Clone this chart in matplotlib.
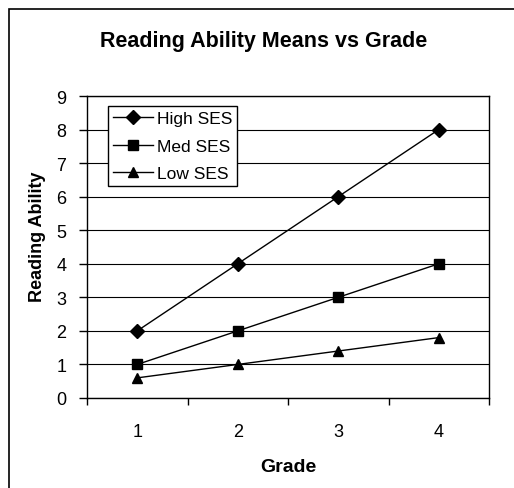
import matplotlib
matplotlib.use("Agg")
import matplotlib.pyplot as plt
from matplotlib.patches import Rectangle

plt.rcParams['font.family'] = ['Liberation Sans', 'DejaVu Sans']

grades = [1, 2, 3, 4]
high_ses = [2, 4, 6, 8]
med_ses = [1, 2, 3, 4]
low_ses = [0.6, 1.0, 1.4, 1.8]

W, H = 514, 489
fig = plt.figure(figsize=(W / 100, H / 100), dpi=100)

# outer chart frame (runs off the right and bottom edges)
fig.patches.append(Rectangle((9 / W, -0.05), 1.2, (H - 10) / H + 0.05,
                             transform=fig.transFigure, fill=False,
                             edgecolor='black', linewidth=1.2))

ax = fig.add_axes([87 / W, (H - 399) / H, (489 - 87) / W, (399 - 97) / H])

ax.plot(grades, high_ses, color='black', lw=1, marker='D', ms=6.8, label='High SES')
ax.plot(grades, med_ses, color='black', lw=1, marker='s', ms=6.8, label='Med SES')
ax.plot(grades, low_ses, color='black', lw=1, marker='^', ms=7.5, label='Low SES')

ax.set_xlim(0.5, 4.5)
ax.set_ylim(0, 9)
ax.set_yticks(range(0, 10))
ax.set_xticks(grades)
ax.set_xticks([0.5, 1.5, 2.5, 3.5, 4.5], minor=True)
ax.tick_params(axis='x', which='major', length=0, pad=18, labelsize=13)
ax.tick_params(axis='x', which='minor', length=5, width=1, direction='out')
ax.tick_params(axis='y', length=6, width=1, direction='out', pad=9, labelsize=13)
ax.grid(axis='y', color='black', lw=0.8)
ax.set_axisbelow(True)
for s in ax.spines.values():
    s.set_linewidth(1)
    s.set_color('black')

ax.set_xlabel('Grade', fontsize=14, fontweight='bold', labelpad=13)
ax.set_ylabel('Reading Ability', fontsize=13, fontweight='bold')
ax.yaxis.set_label_coords((46 - 87) / 402, (399 - 237) / 302)
fig.text(264 / W, (H - 42) / H, 'Reading Ability Means vs Grade', ha='center', va='center',
         fontsize=15.5, fontweight='bold')

leg = ax.legend(loc='upper left', bbox_to_anchor=((108 - 87) / (489 - 87), 1 - (107 - 97) / (399 - 97)),
                fontsize=12.5, frameon=True, fancybox=False, edgecolor='black',
                framealpha=1, borderpad=0.3, labelspacing=0.7, handlelength=2.3,
                handletextpad=0.2, borderaxespad=0)
leg.get_frame().set_linewidth(1)

fig.savefig('out.png', dpi=100, facecolor='white')
